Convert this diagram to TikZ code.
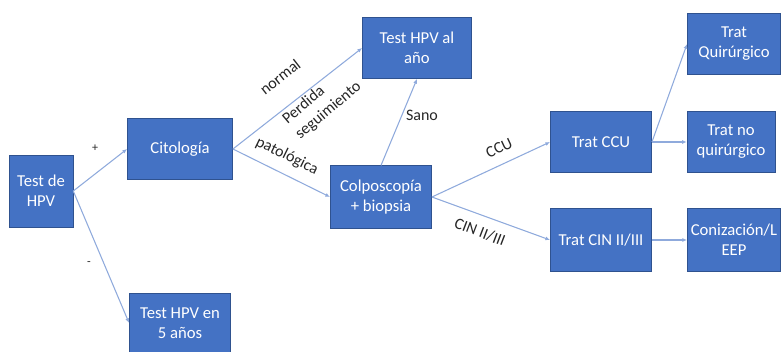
\documentclass[tikz,border=0pt]{standalone}
\usepackage{fontspec}
\setmainfont{Carlito}
\usetikzlibrary{arrows.meta,positioning}
\definecolor{boxblue}{HTML}{4472C4}
\definecolor{boxedge}{HTML}{2F528F}
\definecolor{linkblue}{HTML}{8FAADC}

\begin{document}
\begin{tikzpicture}[x=0.75pt,y=-0.75pt,>={Latex[length=3.5pt,width=3pt]},
  box/.style={fill=boxblue,draw=boxedge,text=white,align=center,
    font=\fontsize{12.5}{15}\selectfont,inner sep=1pt},
  link/.style={->,linkblue,line width=0.8pt},
  lbl/.style={text=black!85,align=center,font=\fontsize{12}{15}\selectfont,inner sep=0pt}]
  \useasboundingbox (0,0) rectangle (781,351);
  % boxes
  \node[box,minimum width=48pt,minimum height=54pt] (hpv) at (41,191) {Test de\\HPV};
  \node[box,minimum width=79pt,minimum height=46pt] (cito) at (180,149) {Citología};
  \node[box,minimum width=76pt,minimum height=45pt] (cinco) at (180,323) {Test HPV en\\5 años};
  \node[box,minimum width=82pt,minimum height=46pt] (anio) at (417,48) {Test HPV al\\año};
  \node[box,minimum width=76pt,minimum height=47pt] (colpo) at (381,197) {Colposcopía\\+ biopsia};
  \node[box,minimum width=76pt,minimum height=46pt] (ccu) at (601,142) {Trat CCU};
  \node[box,minimum width=76pt,minimum height=47pt] (cin) at (601,240) {Trat CIN II/III};
  \node[box,minimum width=70pt,minimum height=46pt] (quir) at (734,44) {Trat\\Quirúrgico};
  \node[box,minimum width=66pt,minimum height=46pt] (noquir) at (731,142) {Trat no\\quirúrgico};
  \node[box,minimum width=70pt,minimum height=47pt] (coni) at (734,240) {Conización/L\\EEP};
  % links
  \draw[link] (hpv.east) -- (cito.west);
  \draw[link] (hpv.east) -- (cinco.west);
  \draw[link] (cito.east) -- (anio.west);
  \draw[link] (cito.east) -- (colpo.west);
  \draw[link] (colpo.north) -- (anio.south);
  \draw[link] (colpo.east) -- (ccu.west);
  \draw[link] (colpo.east) -- (cin.west);
  \draw[link] (ccu.east) -- (quir.west);
  \draw[link] (ccu.east) -- (noquir.west);
  \draw[link] (cin.east) -- (coni.west);
  % labels
  \node[lbl,font=\fontsize{9}{10}\selectfont] (plus) at (95,148) {+};
  \node[lbl,font=\fontsize{9}{10}\selectfont] (minus) at (89,264) {-};
  \node[lbl,rotate=38] (normal) at (280,77) {normal};
  \node[lbl,rotate=40,align=left] (perdida) at (322,103) {Perdida\\seguimiento};
  \node[lbl,rotate=-26] (pato) at (287,156) {patológica};
  \node[lbl] (sano) at (422,115) {Sano};
  \node[lbl,rotate=25] (ccut) at (499,148) {CCU};
  \node[lbl,rotate=-21] (cint) at (480,232) {CIN II/III};
\end{tikzpicture}
\end{document}
